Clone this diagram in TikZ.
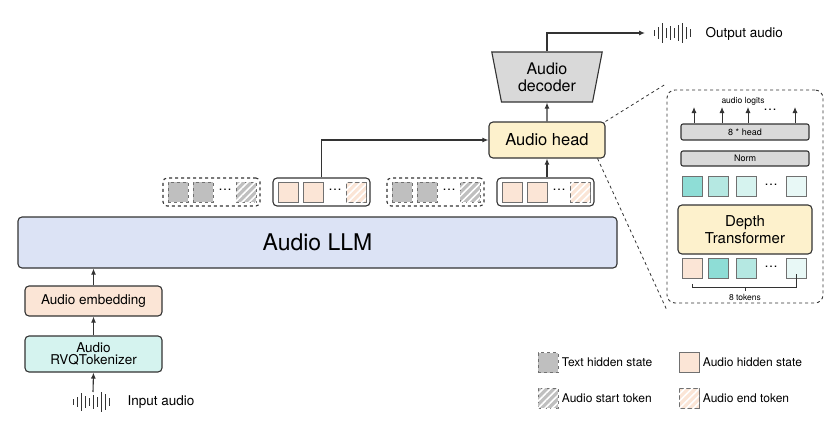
\documentclass[tikz,border=0pt]{standalone}
\usepackage{fontspec}
\setmainfont{TeX Gyre Heros}
\usetikzlibrary{positioning}
\usetikzlibrary{shapes.geometric}
\usetikzlibrary{patterns.meta}
\usetikzlibrary{decorations.pathreplacing}
\usetikzlibrary{arrows.meta}
\definecolor{llm-blue}{HTML}{DCE3F5}
\definecolor{aud-peach}{HTML}{FBE5D6}
\definecolor{aud-teal}{HTML}{D5F3EF}
\definecolor{aud-yellow}{HTML}{FDF1CC}
\definecolor{txt-gray}{HTML}{BFBFBF}
\definecolor{dec-gray}{HTML}{D9D9D9}
\definecolor{ink}{HTML}{333333}
\definecolor{teal1}{HTML}{8EDDD6}
\definecolor{teal2}{HTML}{B5E8E2}
\definecolor{teal3}{HTML}{D6F3EF}
\definecolor{teal4}{HTML}{E8F8F6}
\tikzset{
  blk/.style 2 args={
    rectangle, rounded corners=4pt,
    draw=ink, line width=1.1pt,
    fill=#2, minimum width=#1, align=center},
  tok/.style={
    rectangle, draw=ink!70, line width=0.7pt,
    fill=#1, minimum size=20pt, inner sep=0pt},
  stripe/.style={
    tok=#1,
    postaction={solid, pattern={Lines[angle=45,distance=5pt,line width=1.6pt]}, pattern color=white}},
  grp/.style={
    rectangle, rounded corners=4pt, draw=ink, line width=1.1pt,
    minimum width=97pt, minimum height=28pt},
  arr/.style={-{Latex[length=6pt,width=5pt]}, draw=ink, line width=1.1pt},
}
\begin{document}
\begin{tikzpicture}[x=1pt, y=-1pt, font=\fontsize{13.5}{15}\selectfont]
  \useasboundingbox (0,0) rectangle (839,423);

  % main column
  \node[blk={599pt}{llm-blue}, minimum height=51pt, font=\fontsize{23}{26}\selectfont] (llm) at (317.5,242.5) {Audio LLM};
  \node[blk={137pt}{aud-peach}, minimum height=30pt] (emb) at (93.5,301) {Audio embedding};
  \node[blk={137pt}{aud-teal}, minimum height=36pt, inner sep=1pt] (tok) at (93.5,354) {Audio\\[-3pt]RVQTokenizer};
  \coordinate (in-wave) at (93,392);
  \node[anchor=west] (in-txt) at (124,402) {Input audio};
  \foreach \dx/\h in {-20/6,-16/10,-12/18,-8/12,-4/8,0/14,4/10,8/20,12/16,16/8} {
    \draw[ink, line width=0.9pt] (93+\dx,402-\h/2) -- (93+\dx,402+\h/2);
  }
  \draw[arr] (in-wave) -- (tok.south);
  \draw[arr] (tok.north) -- (emb.south);
  \draw[arr] (emb.north) -- (llm.south -| emb.north);

  % hidden states
  \foreach \gx/\kind [count=\g from 1] in {163/txt,273/aud,387/txt,497/aud} {
    \ifnum\g=2\def\gs{solid}\else\ifnum\g=4\def\gs{solid}\else\def\gs{dashed}\fi\fi
    \node[grp, \gs] (grp\g) at (\gx+48.5,192) {};
    \ifnum\g=2\def\tc{aud-peach}\else\ifnum\g=4\def\tc{aud-peach}\else\def\tc{txt-gray}\fi\fi
    \node[tok=\tc, \gs] (g\g-a) at (\gx+15,192) {};
    \node[tok=\tc, \gs] (g\g-b) at (\gx+40,192) {};
    \node (g\g-d) at (\gx+62,190) {\dots};
    \node[stripe=\tc, \gs] (g\g-c) at (\gx+83,192) {};
  }

  % head and decoder
  \node[blk={116pt}{aud-yellow}, minimum height=36pt, font=\fontsize{16.5}{18}\selectfont] (head) at (547,140) {Audio head};
  \node[trapezium, trapezium stretches=true, shape border rotate=180, trapezium angle=78,
        minimum width=111pt, minimum height=50pt, draw=ink, line width=1.1pt, fill=dec-gray,
        align=center, inner sep=0pt, font=\fontsize{16}{17}\selectfont] (dec) at (547,77) {Audio\\decoder};
  \draw[arr] (grp2.north) |- (head.west);
  \draw[arr] (grp4.north -| head.south) -- (head.south);
  \draw[arr] (head.north) -- (dec.south);
  \coordinate (out-wave) at (645,33);
  \draw[arr] (dec.north) |- (out-wave);
  \foreach \dx/\h in {0/6,4/12,8/20,12/10,16/14,20/10,24/16,28/20,32/12,36/8} {
    \draw[ink, line width=0.9pt] (654+\dx,33-\h/2) -- (654+\dx,33+\h/2);
  }
  \node[anchor=west] (out-txt) at (702,34) {Output audio};

  % zoom panel
  \node[rectangle, rounded corners=8pt, draw=ink, dashed, line width=0.9pt,
        minimum width=156pt, minimum height=213pt] (panel) at (745,196.5) {};
  \draw[ink, dashed, line width=0.8pt] (head.north east) -- ([yshift=6pt]panel.north west);
  \draw[ink, dashed, line width=0.8pt] ([xshift=-8pt]head.south east) -- ([yshift=-6pt]panel.south west);
  \node[font=\fontsize{8.5}{10}\selectfont] (logits) at (743,101) {audio logits};
  \node[blk={128pt}{dec-gray}, rounded corners=2pt, minimum height=16pt, inner sep=0pt, font=\fontsize{9}{10}\selectfont] (mhead) at (745,132) {8 * head};
  \node[blk={128pt}{dec-gray}, rounded corners=2pt, minimum height=15pt, inner sep=0pt, font=\fontsize{9}{10}\selectfont] (norm) at (745,158.5) {Norm};
  \foreach \x in {694,722,748,795} {
    \draw[-{Latex[length=6pt,width=5pt]}, ink, line width=0.9pt] (mhead.north -| \x,0) -- (\x,107);
  }
  \node (ldots) at (770,110) {\dots};
  \foreach \c/\x [count=\i from 1] in {teal1/692,teal2/718,teal3/746,teal4/796} {
    \node[tok=\c] (up\i) at (\x,186.5) {};
  }
  \node (up-d) at (771,185) {\dots};
  \node[blk={134pt}{aud-yellow}, minimum height=49pt, inner sep=1pt, font=\fontsize{15}{17}\selectfont] (depth) at (745,229.5) {Depth\\Transformer};
  \foreach \c/\x [count=\i from 1] in {aud-peach/692,teal1/718,teal2/746,teal4/796} {
    \node[tok=\c] (lo\i) at (\x,268.5) {};
  }
  \node (lo-d) at (771,267) {\dots};
  \draw[ink, line width=0.8pt] (lo1.south) ++(0,5) -- ++(0,4) -| ([yshift=5pt]lo4.south);
  \draw[ink, line width=0.8pt] (745,287) -- (745,291);
  \node[font=\fontsize{8.5}{10}\selectfont] (ntok) at (745,297) {8 tokens};

  % legend
  \node[tok=txt-gray, dashed] (lg1) at (548,362.5) {};
  \node[anchor=west, font=\fontsize{12}{14}\selectfont] (lg1-t) at (lg1.east) {Text hidden state};
  \node[stripe=txt-gray, dashed] (lg2) at (548,398) {};
  \node[anchor=west, font=\fontsize{12}{14}\selectfont] (lg2-t) at (lg2.east) {Audio start token};
  \node[tok=aud-peach] (lg3) at (689,362.5) {};
  \node[anchor=west, font=\fontsize{12}{14}\selectfont] (lg3-t) at (lg3.east) {Audio hidden state};
  \node[stripe=aud-peach] (lg4) at (689,398) {};
  \node[anchor=west, font=\fontsize{12}{14}\selectfont] (lg4-t) at (lg4.east) {Audio end token};
\end{tikzpicture}
\end{document}
